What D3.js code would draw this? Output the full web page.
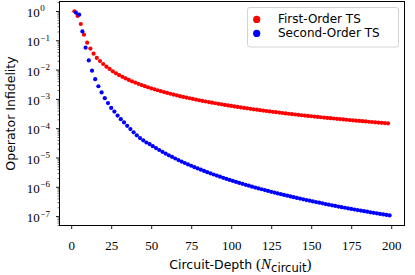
<!DOCTYPE html>
<html><head><meta charset="utf-8">
<script src="https://cdn.jsdelivr.net/npm/d3@7"></script>
<style>
html,body{margin:0;padding:0;background:#fff;}
svg{display:block;}
</style></head><body>
<svg id="c" width="415" height="275"></svg>
<script>
const firstDepth=[2,4,6,8,10,12,14,16,18,20,22,24,26,28,30,32,34,36,38,40,42,44,46,48,50,52,54,56,58,60,62,64,66,68,70,72,74,76,78,80,82,84,86,88,90,92,94,96,98,100,102,104,106,108,110,112,114,116,118,120,122,124,126,128,130,132,134,136,138,140,142,144,146,148,150,152,154,156,158,160,162,164,166,168,170,172,174,176,178,180,182,184,186,188,190,192,194,196,198];
const firstInfid=[0.98,0.68,0.36,0.155,0.083,0.052,0.035,0.025,0.0196,0.0155,0.0126,0.0105,0.0087,0.00745,0.00645,0.00565,0.005,0.00445,0.00399,0.0036,0.00326,0.00297,0.00272,0.0025,0.0023,0.00213,0.00197,0.00183,0.00171,0.0016,0.0015,0.0014,0.00132,0.00124,0.00117,0.00111,0.00105,0.000995,0.000945,0.000898,0.000855,0.000815,0.000777,0.000743,0.00071,0.000679,0.000651,0.000624,0.000599,0.000575,0.000553,0.000532,0.000512,0.000493,0.000475,0.000458,0.000442,0.000427,0.000413,0.000399,0.000386,0.000374,0.000362,0.000351,0.00034,0.00033,0.00032,0.000311,0.000302,0.000293,0.000285,0.000277,0.00027,0.000263,0.000256,0.000249,0.000242,0.000236,0.00023,0.000225,0.000219,0.000214,0.000209,0.000204,0.000199,0.000194,0.00019,0.000186,0.000181,0.000177,0.000174,0.00017,0.000166,0.000163,0.000159,0.000156,0.000153,0.00015,0.000147];
const secondDepth=[3,5,7,9,11,13,15,17,19,21,23,25,27,29,31,33,35,37,39,41,43,45,47,49,51,53,55,57,59,61,63,65,67,69,71,73,75,77,79,81,83,85,87,89,91,93,95,97,99,101,103,105,107,109,111,113,115,117,119,121,123,125,127,129,131,133,135,137,139,141,143,145,147,149,151,153,155,157,159,161,163,165,167,169,171,173,175,177,179,181,183,185,187,189,191,193,195,197,199];
const secondInfid=[0.875,0.75,0.2,0.056,0.0206,0.0092,0.0047,0.0027,0.00166,0.00106,0.00072,0.00049,0.00037,0.00027,0.000203,0.000157,0.00012,0.000093,0.000072,0.000057,0.000046,0.0000385,0.0000325,2.86e-5,2.44e-5,2.09e-5,1.80e-5,1.56e-5,1.36e-5,1.19e-5,1.05e-5,9.24e-6,8.19e-6,7.28e-6,6.49e-6,5.81e-6,5.22e-6,4.69e-6,4.24e-6,3.83e-6,3.48e-6,3.16e-6,2.88e-6,2.63e-6,2.41e-6,2.21e-6,2.03e-6,1.86e-6,1.72e-6,1.59e-6,1.47e-6,1.36e-6,1.26e-6,1.17e-6,1.09e-6,1.01e-6,9.43e-7,8.81e-7,8.23e-7,7.70e-7,7.21e-7,6.76e-7,6.34e-7,5.96e-7,5.60e-7,5.27e-7,4.97e-7,4.68e-7,4.42e-7,4.18e-7,3.95e-7,3.73e-7,3.53e-7,3.35e-7,3.17e-7,3.01e-7,2.86e-7,2.72e-7,2.58e-7,2.46e-7,2.34e-7,2.23e-7,2.12e-7,2.02e-7,1.93e-7,1.84e-7,1.76e-7,1.68e-7,1.61e-7,1.54e-7,1.47e-7,1.41e-7,1.35e-7,1.29e-7,1.24e-7,1.19e-7,1.14e-7,1.10e-7,1.05e-7];
const xTicks=[0,25,50,75,100,125,150,175,200];
const yExponents=[0,-1,-2,-3,-4,-5,-6,-7];
const seriesNames=["First-Order TS","Second-Order TS"];
const seriesColors=["#ff0000","#0000ff"];

const svg=d3.select("#c");
const L=59.5,R=404.5,T=1.5,B=225.5;
const x=d3.scaleLinear().domain([-7.31,208.3]).range([L,R]);
const y=d3.scaleLog().domain([Math.pow(10,-7.321),Math.pow(10,0.324)]).range([B,T]);
const SANS="'DejaVu Sans', sans-serif";
const SERIF="'Liberation Serif', 'Times New Roman', serif";

// x axis
const gx=svg.append("g").attr("transform",`translate(0,${B})`)
  .call(d3.axisBottom(x).tickValues(xTicks).tickSize(3.5).tickFormat(d3.format("d")));
gx.select(".domain").remove();
gx.selectAll(".tick line").attr("stroke","#000").attr("stroke-width",0.9);
gx.selectAll(".tick text").attr("y",24.8).attr("dy",null)
  .attr("font-family",SERIF).attr("font-size",13).attr("fill","#000");

// y axis major
const majors=yExponents.map(e=>Math.pow(10,e));
const gy=svg.append("g").attr("transform",`translate(${L},0)`)
  .call(d3.axisLeft(y).tickValues(majors).tickSize(3.5).tickFormat(""));
gy.select(".domain").remove();
gy.selectAll(".tick line").attr("stroke","#000").attr("stroke-width",0.9);
gy.selectAll(".tick text").remove();
gy.selectAll(".tick").each(function(d,i){
  const t=d3.select(this).append("text").attr("x",26.7-L).attr("y",5.7)
    .attr("text-anchor","start").attr("font-family",SERIF).attr("fill","#000");
  t.append("tspan").attr("font-size",13).text("10");
  const e=yExponents[i];
  t.append("tspan").attr("font-size",9).attr("dy",-5.7).attr("dx",0.6)
    .text(e<0?"\u2212"+Math.abs(e):String(e));
});
// y minor
const minors=[];
for(let k=-8;k<=0;k++){for(let m=2;m<=9;m++){const v=m*Math.pow(10,k);if(v>y.domain()[0]&&v<y.domain()[1])minors.push(v);}}
const gym=svg.append("g").attr("transform",`translate(${L},0)`)
  .call(d3.axisLeft(y).tickValues(minors).tickSize(2).tickFormat(""));
gym.select(".domain").remove();
gym.selectAll(".tick line").attr("stroke","#000").attr("stroke-width",0.6);

// points
const sets=[
  {d:firstDepth,v:firstInfid,c:seriesColors[0]},
  {d:secondDepth,v:secondInfid,c:seriesColors[1]}
];
sets.forEach(s=>{
  svg.append("g").selectAll("circle").data(s.d.map((n,i)=>[n,s.v[i]])).join("circle")
    .attr("cx",p=>x(p[0])).attr("cy",p=>y(p[1])).attr("r",2.1).attr("fill",s.c);
});

// frame
svg.append("rect").attr("x",L).attr("y",T).attr("width",R-L).attr("height",B-T)
  .attr("fill","none").attr("stroke","#000").attr("stroke-width",1);

// legend
const lg=svg.append("g");
lg.append("rect").attr("x",247.5).attr("y",7.5).attr("width",151).attr("height",39.5).attr("rx",2.5)
  .attr("fill","#fff").attr("fill-opacity",0.8).attr("stroke","#d3d3d3").attr("stroke-width",1);
seriesNames.forEach((name,i)=>{
  const yy=19.4+i*14;
  lg.append("circle").attr("cx",256.7).attr("cy",yy).attr("r",3.6).attr("fill",seriesColors[i]);
  lg.append("text").attr("x",278).attr("y",yy).attr("dominant-baseline","central")
    .attr("font-family",SANS).attr("font-size",12).attr("fill","#000").text(name);
});

// axis labels
svg.append("text").attr("transform",`translate(10,${(T+B)/2}) rotate(-90)`)
  .attr("text-anchor","middle").attr("dominant-baseline","central")
  .attr("font-family",SANS).attr("font-size",12.5).attr("fill","#000").text("Operator Infidelity");
const xl=svg.append("text").attr("x",169.3).attr("y",269.3).attr("fill","#000");
xl.append("tspan").attr("font-family",SANS).attr("font-size",12.5).text("Circuit-Depth ");
xl.append("tspan").attr("font-family",SERIF).attr("font-size",15).text("(");
xl.append("tspan").attr("font-family",SERIF).attr("font-style","italic").attr("font-size",15).text("N");
xl.append("tspan").attr("font-family",SANS).attr("font-size",11.5).attr("dy",3).text("circuit");
xl.append("tspan").attr("font-family",SERIF).attr("font-size",15).attr("dy",-3).text(")");
</script>
</body></html>
